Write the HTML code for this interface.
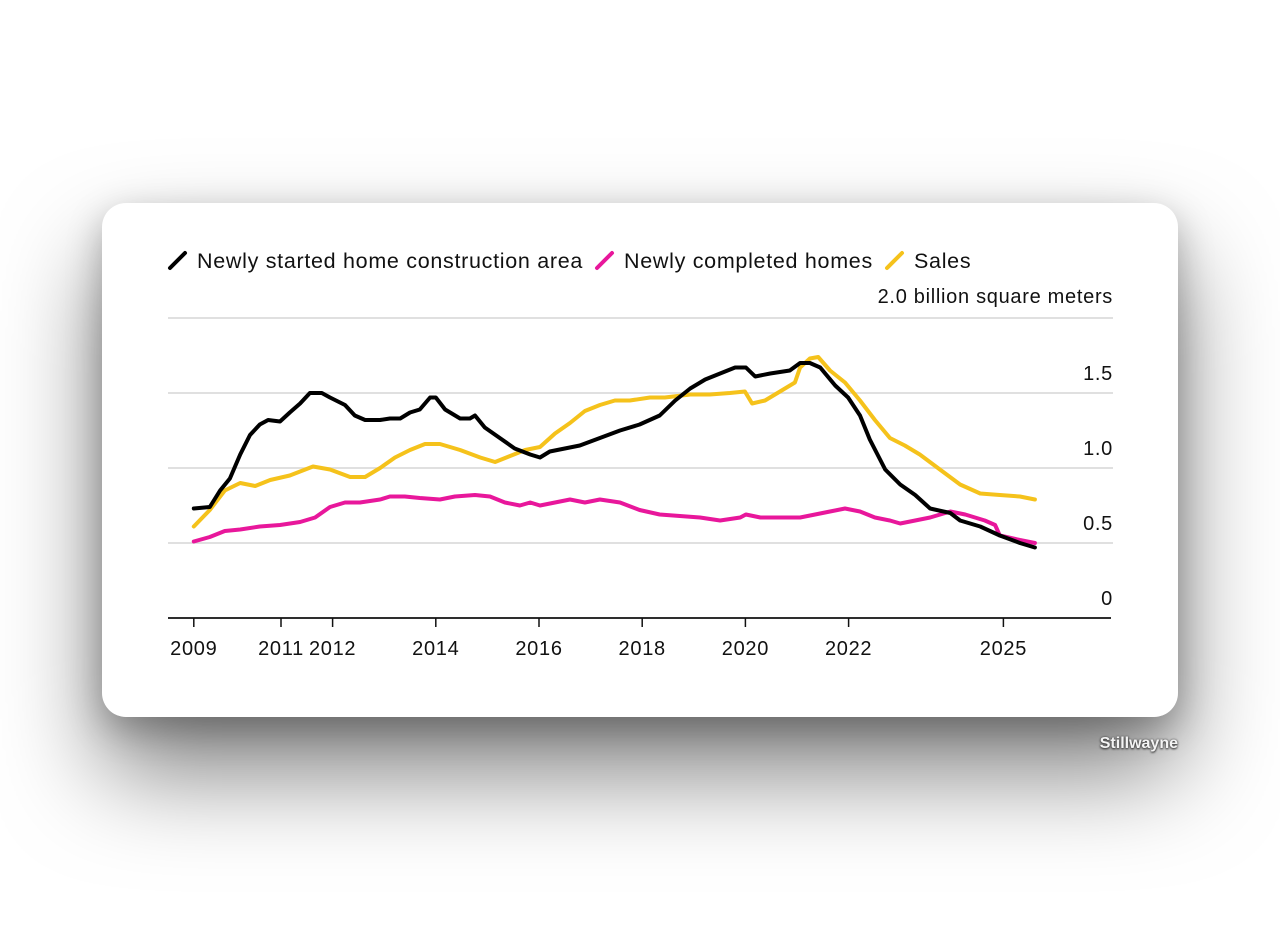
<!DOCTYPE html>
<html><head><meta charset="utf-8"><style>
html,body{margin:0;padding:0;background:#fff;width:1280px;height:929px;overflow:hidden;font-family:"Liberation Sans",sans-serif;}
#card{position:absolute;left:102px;top:203px;width:1076px;height:514px;background:#fff;border-radius:24px;box-shadow:0 55px 100px rgba(0,0,0,0.5),0 12px 35px rgba(0,0,0,0.25);}
#wm{position:absolute;right:102px;top:735px;font-size:16px;font-weight:bold;color:#f4f4f4;text-shadow:0 0 2px #444,0 1px 2px #222;}
svg{position:absolute;left:0;top:0;}
text{letter-spacing:0.7px;}
</style></head><body>
<div id="card"></div>
<div id="wm">Stillwayne</div>
<svg id="chart" width="1280" height="929"></svg>
<script>
const blackYears=[2009.31,2009.62,2009.82,2010.01,2010.21,2010.40,2010.59,2010.75,2010.98,2011.17,2011.37,2011.56,2011.79,2011.95,2012.24,2012.43,2012.63,2012.92,2013.11,2013.31,2013.50,2013.69,2013.89,2014.00,2014.18,2014.47,2014.66,2014.76,2014.95,2015.24,2015.53,2015.83,2016.02,2016.21,2016.50,2016.79,2017.18,2017.57,2017.95,2018.34,2018.64,2018.93,2019.22,2019.51,2019.80,2020.01,2020.19,2020.48,2020.86,2021.06,2021.25,2021.45,2021.74,2021.99,2022.22,2022.41,2022.71,2023.00,2023.29,2023.58,2023.97,2024.16,2024.55,2024.93,2025.32,2025.61];
const blackValues=[0.73,0.74,0.85,0.93,1.09,1.22,1.29,1.32,1.31,1.37,1.43,1.50,1.50,1.47,1.42,1.35,1.32,1.32,1.33,1.33,1.37,1.39,1.47,1.47,1.39,1.33,1.33,1.35,1.27,1.20,1.13,1.09,1.07,1.11,1.13,1.15,1.20,1.25,1.29,1.35,1.45,1.53,1.59,1.63,1.67,1.67,1.61,1.63,1.65,1.70,1.70,1.67,1.55,1.47,1.35,1.19,0.99,0.89,0.82,0.73,0.70,0.65,0.61,0.55,0.50,0.47];
const salesYears=[2009.31,2009.62,2009.91,2010.21,2010.50,2010.79,2011.17,2011.62,2011.95,2012.34,2012.63,2012.92,2013.21,2013.50,2013.79,2014.08,2014.47,2014.86,2015.15,2015.44,2015.73,2016.02,2016.31,2016.60,2016.89,2017.18,2017.47,2017.76,2018.15,2018.44,2018.93,2019.31,2019.70,2019.99,2020.13,2020.38,2020.67,2020.96,2021.06,2021.25,2021.41,2021.64,2021.93,2022.22,2022.51,2022.80,2023.09,2023.38,2023.77,2024.16,2024.55,2024.93,2025.32,2025.61];
const salesValues=[0.61,0.72,0.85,0.90,0.88,0.92,0.95,1.01,0.99,0.94,0.94,1.00,1.07,1.12,1.16,1.16,1.12,1.07,1.04,1.08,1.12,1.14,1.23,1.30,1.38,1.42,1.45,1.45,1.47,1.47,1.49,1.49,1.50,1.51,1.43,1.45,1.51,1.57,1.67,1.73,1.74,1.65,1.57,1.45,1.32,1.20,1.15,1.09,0.99,0.89,0.83,0.82,0.81,0.79];
const completedYears=[2009.31,2009.62,2009.91,2010.21,2010.59,2010.98,2011.37,2011.66,2011.95,2012.24,2012.53,2012.92,2013.11,2013.40,2013.69,2014.08,2014.37,2014.76,2015.05,2015.34,2015.63,2015.83,2016.02,2016.31,2016.60,2016.89,2017.18,2017.57,2017.95,2018.34,2018.73,2019.12,2019.51,2019.90,2020.01,2020.29,2020.67,2021.06,2021.35,2021.64,2021.93,2022.22,2022.51,2022.80,2023.00,2023.29,2023.58,2023.97,2024.26,2024.64,2024.84,2024.93,2025.32,2025.61];
const completedValues=[0.51,0.54,0.58,0.59,0.61,0.62,0.64,0.67,0.74,0.77,0.77,0.79,0.81,0.81,0.80,0.79,0.81,0.82,0.81,0.77,0.75,0.77,0.75,0.77,0.79,0.77,0.79,0.77,0.72,0.69,0.68,0.67,0.65,0.67,0.69,0.67,0.67,0.67,0.69,0.71,0.73,0.71,0.67,0.65,0.63,0.65,0.67,0.71,0.69,0.65,0.62,0.55,0.52,0.50];
const yTicks=[0,0.5,1.0,1.5];
const yTickLabels=["0","0.5","1.0","1.5"];
const xTickYears=[2009.31,2011,2012,2014,2016,2018,2020,2022,2025];
const xTickLabels=["2009","2011","2012","2014","2016","2018","2020","2022","2025"];

const NS="http://www.w3.org/2000/svg";
const svg=document.getElementById('chart');
const X=y=>281+(y-2011)*51.6;
const Y=v=>618-v*150;
function mk(tag,attrs,parent){const e=document.createElementNS(NS,tag);for(const k in attrs)e.setAttribute(k,attrs[k]);(parent||svg).appendChild(e);return e;}

mk('line',{x1:168,x2:1113,y1:Y(2),y2:Y(2),stroke:'#d6d6d6','stroke-width':1.5});
yTicks.forEach((v,i)=>{
  if(v>0){const g=mk('line',{x1:168,x2:1113,y1:Y(v),y2:Y(v),stroke:'#d6d6d6','stroke-width':1.5});
  
  }
  const t=mk('text',{x:1113,y:Y(v)-13,'text-anchor':'end','font-size':20,fill:'#111'});
  t.textContent=yTickLabels[i];
  
  
});
const unit=mk('text',{x:1113,y:303,'text-anchor':'end','font-size':20,fill:'#111'});
unit.textContent='2.0 billion square meters';



function line(years,vals,color,name){
  const d=years.map((y,i)=>(i?'L':'M')+X(y).toFixed(1)+','+Y(vals[i]).toFixed(1)).join(' ');
  const p=mk('path',{d:d,fill:'none',stroke:color,'stroke-width':4,'stroke-linejoin':'round','stroke-linecap':'round'});
  
  
}
line(completedYears,completedValues,'#e8179b','completed-homes-line');
line(salesYears,salesValues,'#f5c21b','sales-line');
line(blackYears,blackValues,'#000','construction-started-line');

const ax=mk('line',{x1:168,x2:1111,y1:618,y2:618,stroke:'#111','stroke-width':1.8});


xTickYears.forEach((yr,i)=>{
  const x=X(yr);
  mk('line',{x1:x,x2:x,y1:618,y2:627,stroke:'#111','stroke-width':1.5});
  const t=mk('text',{x:x,y:655,'text-anchor':'middle','font-size':20,fill:'#111'});
  t.textContent=xTickLabels[i];
  
  
});

const legend=[['#000','Newly started home construction area',170],['#e8179b','Newly completed homes',597],['#f5c21b','Sales',887]];
legend.forEach(l=>{
  const g=mk('g',{});
  
  
  mk('line',{x1:l[2],y1:268,x2:l[2]+15,y2:253,stroke:l[0],'stroke-width':4,'stroke-linecap':'round'},g);
  const t=mk('text',{x:l[2]+27,y:268,'font-size':21.5,fill:'#111'},g);
  t.textContent=l[1];
});
</script>
</body></html>
